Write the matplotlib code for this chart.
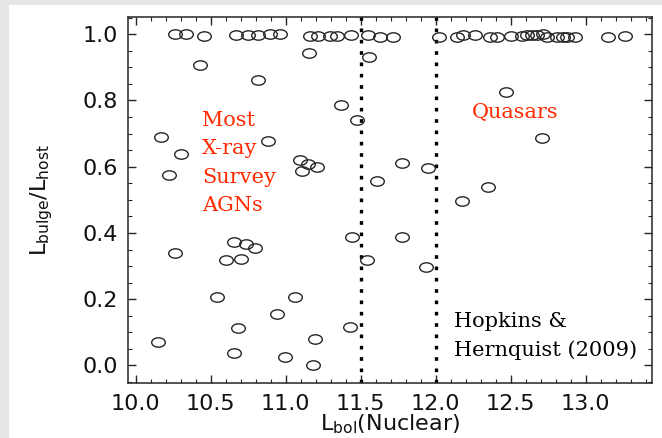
import matplotlib
matplotlib.use("Agg")
import matplotlib.pyplot as plt
from matplotlib.path import Path
from matplotlib.markers import MarkerStyle
from matplotlib.patches import Rectangle
from matplotlib.transforms import Affine2D
from matplotlib.ticker import MultipleLocator, FormatStrFormatter

# Nuclear bolometric luminosity (log) and bulge-to-host luminosity ratio
lbol = [
    # ratio ~ 1 (pure bulges), lower-luminosity side
    10.262, 10.333, 10.457, 10.667, 10.747, 10.817, 10.895, 10.962,
    11.162, 11.217, 11.295, 11.340, 11.433, 11.549, 11.629, 11.717,
    # ratio ~ 1, quasar side
    12.022, 12.140, 12.184, 12.262, 12.362, 12.407, 12.500, 12.573,
    12.607, 12.640, 12.673, 12.713, 12.740, 12.807, 12.851, 12.873,
    12.929, 13.151, 13.262,
    # mixed systems
    10.429, 10.817, 11.157, 11.367, 11.473, 10.167, 10.300, 10.224,
    10.884, 11.095, 11.151, 11.207, 11.107,
    10.262, 10.657, 10.735, 10.795, 10.602, 10.702, 10.540, 11.060,
    10.940, 10.680, 10.151, 10.655, 10.995, 11.197, 11.184, 11.440,
    11.430,
    11.555, 11.773, 11.947, 11.607, 11.773, 11.544, 11.933,
    12.469, 12.707, 12.347, 12.177,
]
ratio = [
    1.000, 1.000, 0.995, 0.998, 0.997, 0.997, 1.000, 1.000,
    0.996, 0.996, 0.996, 0.996, 0.998, 0.998, 0.991, 0.993,
    0.991, 0.993, 0.998, 0.998, 0.993, 0.993, 0.996, 0.996,
    0.997, 0.998, 0.999, 1.002, 0.993, 0.993, 0.991, 0.992,
    0.991, 0.993, 0.995,
    0.908, 0.862, 0.943, 0.785, 0.740, 0.689, 0.637, 0.576,
    0.677, 0.621, 0.609, 0.598, 0.586,
    0.341, 0.372, 0.367, 0.354, 0.317, 0.322, 0.207, 0.206,
    0.154, 0.114, 0.072, 0.039, 0.026, 0.081, 0.000, 0.387,
    0.115,
    0.932, 0.612, 0.595, 0.558, 0.388, 0.317, 0.296,
    0.827, 0.687, 0.540, 0.497,
]
divider_lbol = [11.5, 12.0]
xticks = [10.0, 10.5, 11.0, 11.5, 12.0, 12.5, 13.0]
yticks = [0.0, 0.2, 0.4, 0.6, 0.8, 1.0]

W, H = 662, 438
fig = plt.figure(figsize=(W / 100, H / 100), dpi=100, facecolor="#e6e6e6")
fig.patches.append(Rectangle((9 / W, 0), 1, 1 - 5 / H, transform=fig.transFigure,
                             facecolor="white", edgecolor="none", zorder=-10))

ax = fig.add_axes([127.7 / W, 1 - 382.7 / H, (651.7 - 127.7) / W, (382.7 - 17) / H])
ax.set_facecolor("white")
ax.set_zorder(1)

# horizontally stretched open ellipse marker
ell = Path.unit_circle().transformed(Affine2D().scale(1.45, 1.0))
marker = MarkerStyle(ell)

ink = "#262626"
ax.plot(lbol, ratio, linestyle="none", marker=marker, markersize=9.8,
        markerfacecolor="none", markeredgecolor=ink, markeredgewidth=1.0, zorder=3)

for xv in divider_lbol:
    ax.axvline(xv, color="black", linewidth=2.4, dashes=(1.1, 2.3), zorder=2)

ax.set_xlim(9.947, 13.44)
ax.set_ylim(-0.052, 1.052)
ax.set_xticks(xticks)
ax.set_yticks(yticks)
ax.xaxis.set_minor_locator(MultipleLocator(0.1))
ax.yaxis.set_minor_locator(MultipleLocator(0.05))
ax.xaxis.set_major_formatter(FormatStrFormatter("%.1f"))
ax.yaxis.set_major_formatter(FormatStrFormatter("%.1f"))

for s in ax.spines.values():
    s.set_linewidth(1.1)
    s.set_color(ink)

ax.tick_params(which="both", direction="in", top=True, right=True, color=ink)
ax.tick_params(which="major", length=5.5, width=1.0, labelsize=16,
               labelcolor="#111111")
ax.tick_params(which="minor", length=3, width=0.8)
ax.tick_params(axis="x", which="major", pad=8)
ax.tick_params(axis="y", which="major", pad=7)
for lab in ax.get_xticklabels() + ax.get_yticklabels():
    lab.set_family("DejaVu Sans")

ax.set_xlabel(r"$\mathregular{L_{bol}}$(Nuclear)", fontsize=16, family="DejaVu Sans",
              labelpad=-1, color="#111111")
ax.set_ylabel(r"$\mathregular{L_{bulge}/L_{host}}$", fontsize=16, family="DejaVu Sans",
              labelpad=20, color="#111111")

red = "#ff2a00"
ax.text(10.442, 0.768, "Most\nX-ray\nSurvey\nAGNs", color=red, fontsize=15,
        family="DejaVu Serif", ha="left", va="top", linespacing=1.62)
ax.text(12.24, 0.747, "Quasars", color=red, fontsize=15, family="DejaVu Serif",
        ha="left", va="baseline")
ax.text(12.124, 0.1155, "Hopkins &", color="black", fontsize=15,
        family="DejaVu Serif", ha="left", va="baseline")
ax.text(12.124, 0.030, "Hernquist (2009)", color="black", fontsize=15,
        family="DejaVu Serif", ha="left", va="baseline")

fig.savefig("out.png", dpi=100, facecolor=fig.get_facecolor())
